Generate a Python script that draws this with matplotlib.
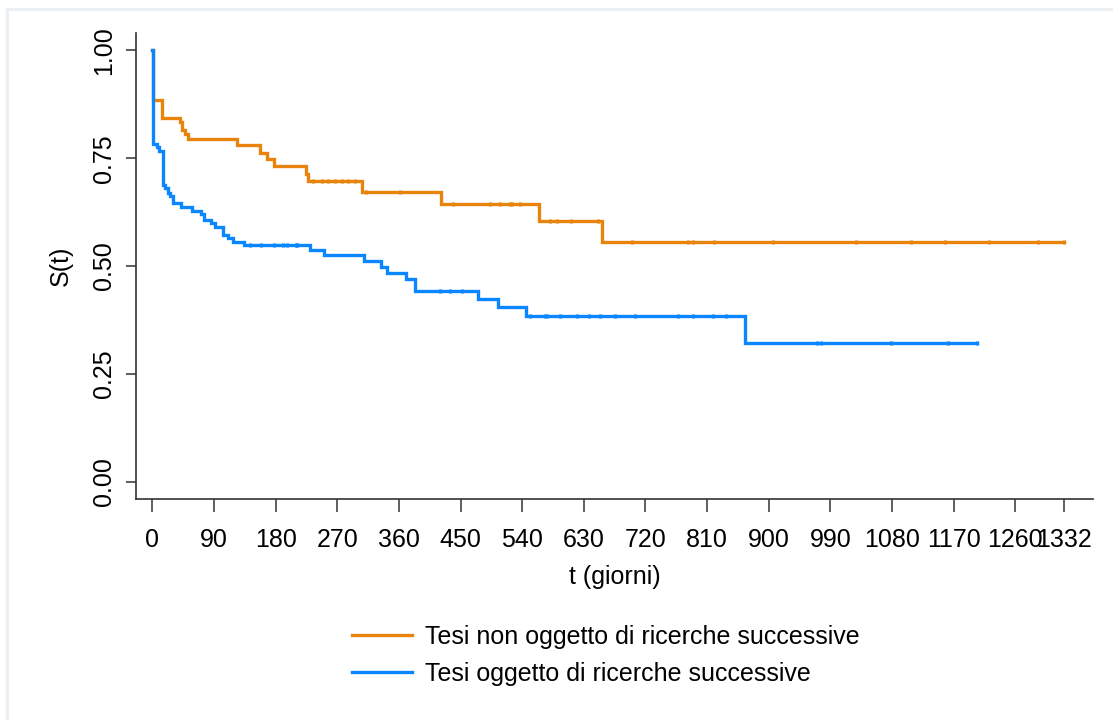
import numpy as np
import matplotlib.pyplot as plt

plt.rcParams['font.family'] = ['Liberation Sans', 'DejaVu Sans']

# Kaplan-Meier estimates: event times (giorni) and survival after each event
t_non = [1, 14, 40, 43, 47, 52, 124, 157, 168, 177, 224, 227, 306, 421, 565, 657]
s_non = [0.884, 0.844, 0.834, 0.815, 0.805, 0.794, 0.780, 0.763, 0.748, 0.731,
         0.713, 0.697, 0.671, 0.644, 0.604, 0.555]
end_non = 1332
cens_non = [235, 248, 257, 267, 277, 286, 296, 312, 362, 439, 493, 508, 522, 525,
            537, 581, 591, 611, 651, 701, 782, 789, 820, 906, 1027, 1108, 1157,
            1222, 1293, 1332]

t_ogg = [1, 7, 10, 15, 19, 22, 25, 30, 42, 58, 71, 75, 85, 92, 103, 110, 118, 134,
         230, 250, 309, 334, 343, 371, 384, 476, 504, 545, 865]
s_ogg = [0.782, 0.776, 0.766, 0.688, 0.680, 0.670, 0.662, 0.647, 0.636, 0.627,
         0.620, 0.606, 0.599, 0.591, 0.573, 0.564, 0.556, 0.549, 0.537, 0.525,
         0.512, 0.497, 0.484, 0.471, 0.442, 0.423, 0.404, 0.384, 0.321]
end_ogg = 1205
cens_ogg = [143, 158, 177, 191, 197, 209, 211, 420, 435, 452, 551, 573, 576, 595,
            620, 637, 654, 675, 705, 768, 790, 819, 838, 970, 977, 1079, 1162, 1205]

xticks = [0, 90, 180, 270, 360, 450, 540, 630, 720, 810, 900, 990, 1080, 1170, 1260, 1332]
yticks = [0.00, 0.25, 0.50, 0.75, 1.00]

labels = ['Tesi non oggetto di ricerche successive', 'Tesi oggetto di ricerche successive']
colors = ['#E8830C', '#0A87FF']
fs = 18

fig = plt.figure(figsize=(11.13, 7.2), dpi=100)
ax = fig.add_axes([0.1222, 0.3069, 0.8600, 0.6471])

# faint outer frame on top and left
fig.add_artist(plt.Line2D([0.0065, 1], [0.9875, 0.9875], transform=fig.transFigure,
                          color='#E9EFF2', lw=2.2))
fig.add_artist(plt.Line2D([0.0065, 0.0065], [0, 0.9875], transform=fig.transFigure,
                          color='#E9EFF2', lw=2.2))


def km_step(times, surv, end):
    x = np.concatenate([[0], times, [end]])
    y = np.concatenate([[1.0], surv, [surv[-1]]])
    return x, y


def surv_at(times, surv, pts):
    xs, ys = km_step(times, surv, max(pts))
    idx = np.searchsorted(xs, pts, side='right') - 1
    return ys[idx]


groups = [(t_non, s_non, end_non, cens_non), (t_ogg, s_ogg, end_ogg, cens_ogg)]
for (tt, ss, end, cens), lab, col in zip(groups, labels, colors):
    x, y = km_step(tt, ss, end)
    ax.step(x, y, where='post', color=col, lw=2.4, label=lab, solid_joinstyle='miter')
    ax.plot(cens, surv_at(tt, ss, cens), ls='none', marker='|', ms=3, mew=2.2, color=col)

ax.set_xlim(-24, 1374)
ax.set_ylim(-0.04, 1.04)
ax.set_xticks(xticks)
ax.set_xticklabels([str(v) for v in xticks])
ax.set_yticks(yticks)
ax.set_yticklabels([f'{v:.2f}' for v in yticks], rotation=90, va='center')

for side in ['top', 'right']:
    ax.spines[side].set_visible(False)
for side in ['left', 'bottom']:
    ax.spines[side].set_color('#333333')
    ax.spines[side].set_linewidth(1.2)

ax.tick_params(axis='x', length=9, width=1.1, color='#333333', pad=12, labelsize=fs)
ax.tick_params(axis='y', length=7.5, width=1.1, color='#333333', pad=7, labelsize=fs)

ax.set_xlabel('t (giorni)', fontsize=fs, labelpad=9)
ax.set_ylabel('S(t)', fontsize=fs, labelpad=14)

ax.legend(loc='center left', bbox_to_anchor=(0.316, 0.0896), bbox_transform=fig.transFigure,
          frameon=False, fontsize=fs, handlelength=2.4, handletextpad=0.55,
          labelspacing=0.5, borderpad=0, borderaxespad=0)

fig.savefig('out.png', dpi=100, facecolor='white')
